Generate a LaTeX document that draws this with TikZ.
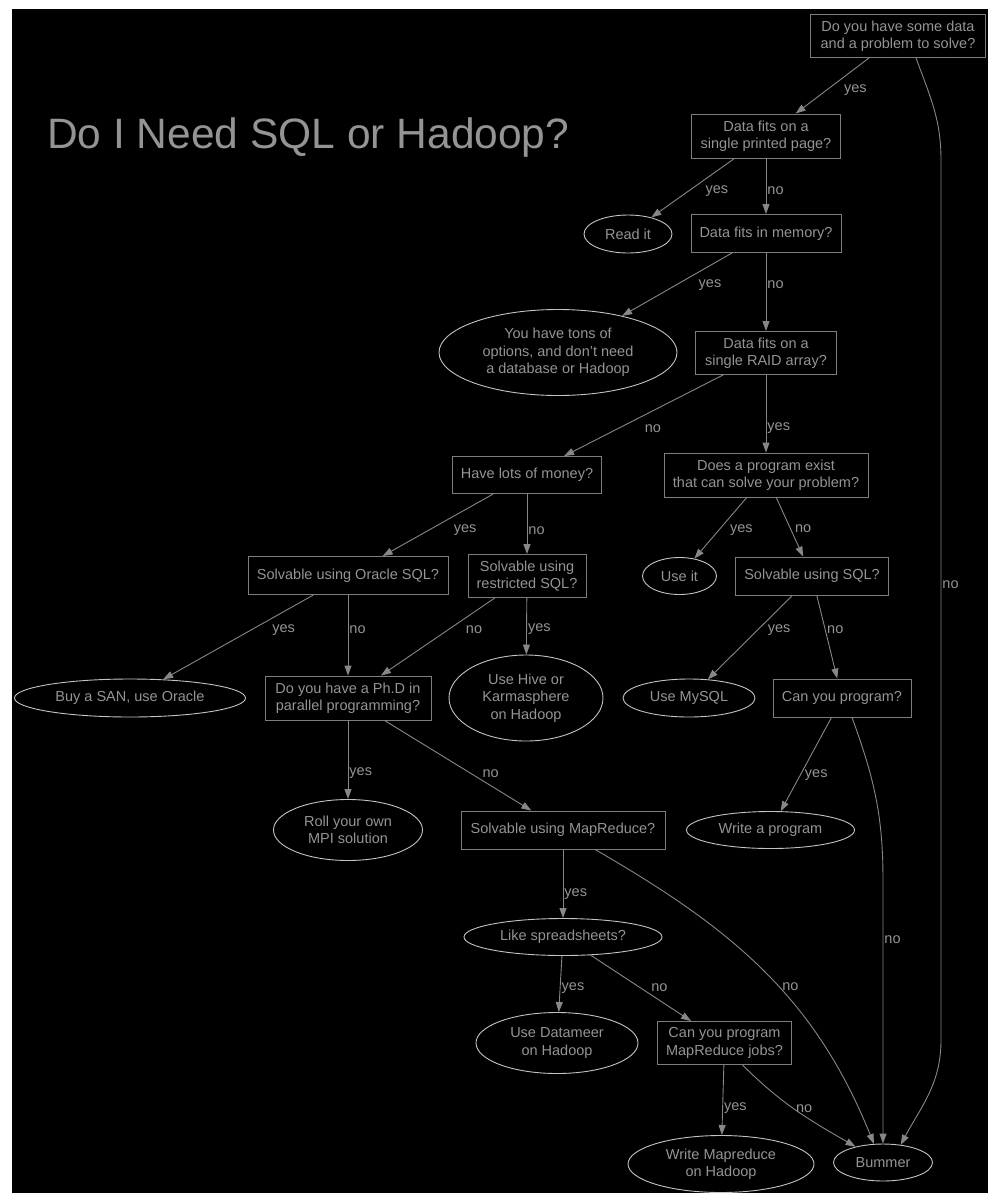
\documentclass[tikz,border=0pt]{standalone}
\usepackage{fontspec}
\setmainfont{Liberation Sans}
\usetikzlibrary{shapes.geometric,arrows.meta}

\definecolor{inkgray}{RGB}{148,148,148}
\definecolor{boxgray}{RGB}{125,125,125}
\definecolor{ovalgray}{RGB}{195,195,195}
\definecolor{wiregray}{RGB}{135,135,135}

\tikzset{
  wire/.style={draw=wiregray,line width=0.9pt,-{Triangle[length=10pt,width=7pt]}},
  lbl/.style={anchor=west,inner sep=0pt,yshift=-2pt,text=inkgray,font=\fontsize{14.5}{17.5}\selectfont},
}

\begin{document}
\begin{tikzpicture}[x=1pt,y=-1pt]

      \useasboundingbox (0,0) rectangle (1000,1200);
      \fill[black] (12,9) rectangle (988,1193);

      \node[anchor=base west,inner sep=0pt,text=inkgray,font=\fontsize{42.5}{48}\selectfont] (title) at (47,148) {Do I Need SQL or Hadoop?};

      % questions
      \begin{scope}[every node/.style={rectangle,draw=boxgray,line width=0.9pt,inner sep=0pt,align=center,text=inkgray,font=\fontsize{14.5}{17.5}\selectfont}]
        \node[minimum width=175pt,minimum height=43pt] (q1)         at (898,36)     {Do you have some data\\and a problem to solve?};
        \node[minimum width=149pt,minimum height=44pt] (q2)         at (766,136)    {Data fits on a\\single printed page?};
        \node[minimum width=150pt,minimum height=38pt] (q3)         at (766,233.5)  {Data fits in memory?};
        \node[minimum width=141pt,minimum height=43pt] (q4)         at (766,353)    {Data fits on a\\single RAID array?};
        \node[minimum width=149pt,minimum height=37pt] (money)      at (527,475)    {Have lots of money?};
        \node[minimum width=204pt,minimum height=44pt] (exist)      at (766,475)    {Does a program exist\\that can solve your problem?};
        \node[minimum width=200pt,minimum height=38pt] (oracle)     at (348,575.5)  {Solvable using Oracle SQL?};
        \node[minimum width=118pt,minimum height=43pt] (restricted) at (527,576)    {Solvable using\\restricted SQL?};
        \node[minimum width=153pt,minimum height=38pt] (sql)        at (812,576)    {Solvable using SQL?};
        \node[minimum width=166pt,minimum height=44pt] (phd)        at (348,698)    {Do you have a Ph.D in\\parallel programming?};
        \node[minimum width=138pt,minimum height=38pt] (canprog)    at (842,698)    {Can you program?};
        \node[minimum width=204pt,minimum height=38pt] (mapreduce)  at (563,830)    {Solvable using MapReduce?};
        \node[minimum width=134pt,minimum height=43pt] (mrjobs)     at (724.5,1043) {Can you program\\MapReduce jobs?};
      \end{scope}

      % answers
      \begin{scope}[every node/.style={ellipse,draw=ovalgray,line width=0.9pt,inner sep=0pt,align=center,text=inkgray,font=\fontsize{14.5}{17.5}\selectfont}]
        \node[minimum width=88pt,minimum height=38pt]  (read)      at (628,234)     {Read it};
        \node[minimum width=238pt,minimum height=86pt] (tons)      at (558,352.5)   {You have tons of\\options, and don't need\\a database or Hadoop};
        \node[minimum width=74pt,minimum height=37pt]  (useit)     at (679.5,576)   {Use it};
        \node[minimum width=231pt,minimum height=38pt] (san)       at (130,698)     {Buy a SAN, use Oracle};
        \node[minimum width=154pt,minimum height=86pt] (hive)      at (526,698)     {Use Hive or\\Karmasphere\\on Hadoop};
        \node[minimum width=132pt,minimum height=38pt] (mysql)     at (689,698)     {Use MySQL};
        \node[minimum width=149pt,minimum height=61pt] (mpi)       at (348,830)     {Roll your own\\MPI solution};
        \node[minimum width=168pt,minimum height=37pt] (writeprog) at (770.5,830)   {Write a program};
        \node[minimum width=198pt,minimum height=37pt] (spread)    at (563,937)     {Like spreadsheets?};
        \node[minimum width=162pt,minimum height=61pt] (datameer)  at (557,1043)    {Use Datameer\\on Hadoop};
        \node[minimum width=186pt,minimum height=57pt] (writemr)   at (721,1164)    {Write Mapreduce\\on Hadoop};
        \node[minimum width=99pt,minimum height=37pt]  (bummer)    at (883,1162.5)  {Bummer};
      \end{scope}

      \begin{scope}[every edge/.style={wire}]
        \path (q1)         edge node[lbl,pos=.55,xshift=15pt]  {yes} (q2);
        \path (q2)         edge node[lbl,pos=.52,xshift=14pt]  {yes} (read);
        \path (q2)         edge node[lbl,pos=.54,xshift=1pt]   {no}  (q3);
        \path (q3)         edge node[lbl,pos=.48,xshift=19pt]  {yes} (tons);
        \path (q3)         edge node[lbl,pos=.38,xshift=1pt]   {no}  (q4);
        \path (q4)         edge node[lbl,pos=.64,xshift=23pt]  {no}  (money);
        \path (q4)         edge node[lbl,pos=.66,xshift=1pt]   {yes} (exist);
        \path (money)      edge node[lbl,pos=.55,xshift=21pt]  {yes} (oracle);
        \path (money)      edge node[lbl,pos=.57,xshift=1pt]   {no}  (restricted);
        \path (exist)      edge node[lbl,pos=.50,xshift=9pt]   {yes} (useit);
        \path (exist)      edge node[lbl,pos=.50,xshift=5pt]   {no}  (sql);
        \path (oracle)     edge node[lbl,pos=.39,xshift=17pt]  {yes} (san);
        \path (oracle)     edge node[lbl,pos=.41,xshift=1pt]   {no}  (phd);
        \path (restricted) edge node[lbl,pos=.38,xshift=14pt]  {no}  (phd);
        \path (restricted) edge node[lbl,pos=.52,xshift=1pt]   {yes} (hive);
        \path (sql)        edge node[lbl,pos=.39,xshift=8pt]   {yes} (mysql);
        \path (sql)        edge node[lbl,pos=.39,xshift=2pt]   {no}  (canprog);
        \path (phd)        edge node[lbl,pos=.65,xshift=1pt]   {yes} (mpi);
        \path (phd)        edge node[lbl,pos=.57,xshift=14pt]  {no}  (mapreduce);
        \path (canprog)    edge node[lbl,pos=.59,xshift=3pt]   {yes} (writeprog);
        \path (mapreduce)  edge node[lbl,pos=.62,xshift=1pt]   {yes} (spread);
        \path (spread)     edge node[lbl,pos=.53,xshift=1pt]   {yes} (datameer);
        \path (spread)     edge node[lbl,pos=.46,xshift=14pt]  {no}  (mrjobs);
        \path (mrjobs)     edge node[lbl,pos=.58,xshift=1pt]   {yes} (writemr);
        \path ([xshift=18pt]mrjobs.south)    edge[out=-45,in=150] node[lbl,pos=.45,xshift=5pt] {no} (bummer.150);
        \path ([xshift=32pt]mapreduce.south) edge[out=-30,in=112] node[lbl,pos=.55,xshift=5pt] {no} (bummer.116);
      \end{scope}

      % long "no" branches
      \draw[wire] ([xshift=10pt]canprog.south) to[out=-70,in=90] (883,880) -- node[lbl,pos=.22,xshift=1pt] {no} (bummer.north);
      \draw[wire] ([xshift=18pt]q1.south) to[out=-70,in=90] (941,160) -- node[lbl,pos=.48,xshift=1pt] {no} (941,1040) to[out=-90,in=62] (bummer.45);

    \end{tikzpicture}
\end{document}
